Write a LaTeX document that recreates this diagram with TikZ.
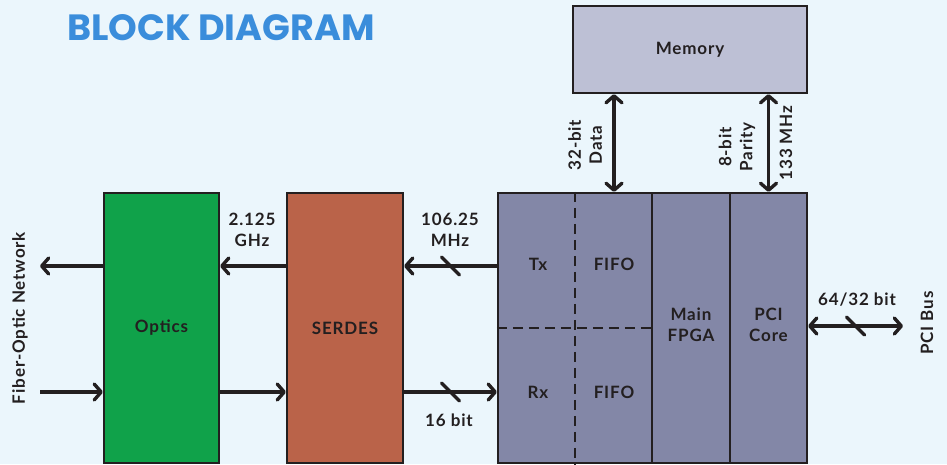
\documentclass[tikz,border=0pt]{standalone}
\usepackage{fontspec}
\setmainfont{Lato}[LetterSpace=5]
\newfontfamily\titlefont{Poppins}
\usetikzlibrary{arrows.meta,calc}
\definecolor{bg}{HTML}{EBF6FC}
\definecolor{titleblue}{HTML}{3A8DDB}
\definecolor{ink}{HTML}{231F20}
\definecolor{optgreen}{HTML}{10A24A}
\definecolor{serdescol}{HTML}{BA6349}
\definecolor{fpgacol}{HTML}{8387A7}
\definecolor{memcol}{HTML}{BDC0D5}
\begin{document}
\begin{tikzpicture}[x=1pt,y=-1pt,
  every node/.style={font=\fontsize{17}{21}\selectfont\bfseries, text=ink},
  blk/.style={draw=ink, line width=2.2pt, inner sep=0pt},
  arr/.style={line width=3.4pt, draw=ink, -{Straight Barb[length=7pt,width=16pt,line cap=round,line join=round]}},
  darr/.style={line width=3.4pt, draw=ink, {Straight Barb[length=7pt,width=16pt,line cap=round,line join=round]}-{Straight Barb[length=7pt,width=16pt,line cap=round,line join=round]}},
  tickm/.style={line width=3.4pt, draw=ink, line cap=round},
  dsh/.style={line width=2.4pt, draw=ink, dash pattern=on 10pt off 6pt}
]
\fill[bg] (0,0) rectangle (947,464);
\useasboundingbox (0,0) rectangle (947,464);

\node[anchor=west, font=\titlefont\bfseries\fontsize{36.5}{36.5}\selectfont, text=titleblue, inner sep=0pt] (title) at (67,28) {BLOCK DIAGRAM};

\node[blk, fill=optgreen, minimum width=115pt, minimum height=270pt] (optics) at (161.5,328) {Optics};
\node[blk, fill=serdescol, minimum width=116pt, minimum height=270pt] (serdes) at (345,328) {SERDES};
\node[blk, fill=fpgacol, minimum width=154pt, minimum height=270pt] (fifo) at (575,328) {};
\node[blk, fill=fpgacol, minimum width=78pt, minimum height=270pt] (main) at (691,328) {};
\node[blk, fill=fpgacol, minimum width=77pt, minimum height=270pt] (pci) at (768.5,328) {};
\node[blk, fill=memcol, minimum width=234pt, minimum height=87pt] (mem) at (690,49.5) {Memory};

\draw[dsh] (fifo.north) -- (fifo.south);
\draw[dsh] (fifo.west) -- (fifo.east);

\node (tx) at (538,264) {Tx};
\node (fifot) at (614,264) {FIFO};
\node (rx) at (538,392) {Rx};
\node (fifob) at (614,392) {FIFO};
\node[align=center] (maintxt) at (691,325) {Main\\FPGA};
\node[align=center] (pcitxt) at (768.5,325) {PCI\\Core};

\coordinate (yt) at (0,266);
\coordinate (yb) at (0,392);
\coordinate (netout) at (40,266);
\coordinate (netin) at (40,392);
\coordinate (xd) at (614,0);
\coordinate (pcibus) at (903,326);

\draw[arr] (optics.west |- yt) -- (netout);
\draw[arr] (netin) -- (optics.west |- yb);
\draw[arr] (serdes.west |- yt) -- (optics.east |- yt);
\draw[arr] (optics.east |- yb) -- (serdes.west |- yb);
\draw[arr] (fifo.west |- yt) -- (serdes.east |- yt);
\draw[arr] (serdes.east |- yb) -- (fifo.west |- yb);
\draw[tickm] ($(serdes.east |- yt)!0.5!(fifo.west |- yt)$) +(-9,-9) -- +(9,9);
\draw[tickm] ($(serdes.east |- yb)!0.5!(fifo.west |- yb)$) +(-9,-9) -- +(9,9);

\draw[darr] (mem.south -| xd) -- (fifo.north -| xd);
\draw[darr] (mem.south -| pci.north) -- (pci.north);
\draw[darr] (pci.east |- pcibus) -- (pcibus);
\draw[tickm] ($(pci.east |- pcibus)!0.5!(pcibus)$) +(-9,-9) -- +(9,9);

\node[align=center] (lghz) at (252,230) {2.125\\GHz};
\node[align=center] (lmhz) at (450,230) {106.25\\MHz};
\node (l16) at (449,420) {16 bit};
\node (l64) at (857,300) {64/32 bit};
\node[rotate=90] (lnet) at (20,318) {Fiber-Optic Network};
\node[rotate=90] (lbus) at (927,323) {PCI Bus};
\node[rotate=90, align=center] (ldata) at (585,145) {32-bit\\Data};
\node[rotate=90, align=center] (lpar) at (737,147) {8-bit\\Parity};
\node[rotate=90] (l133) at (786,143) {133 MHz};
\end{tikzpicture}
\end{document}
